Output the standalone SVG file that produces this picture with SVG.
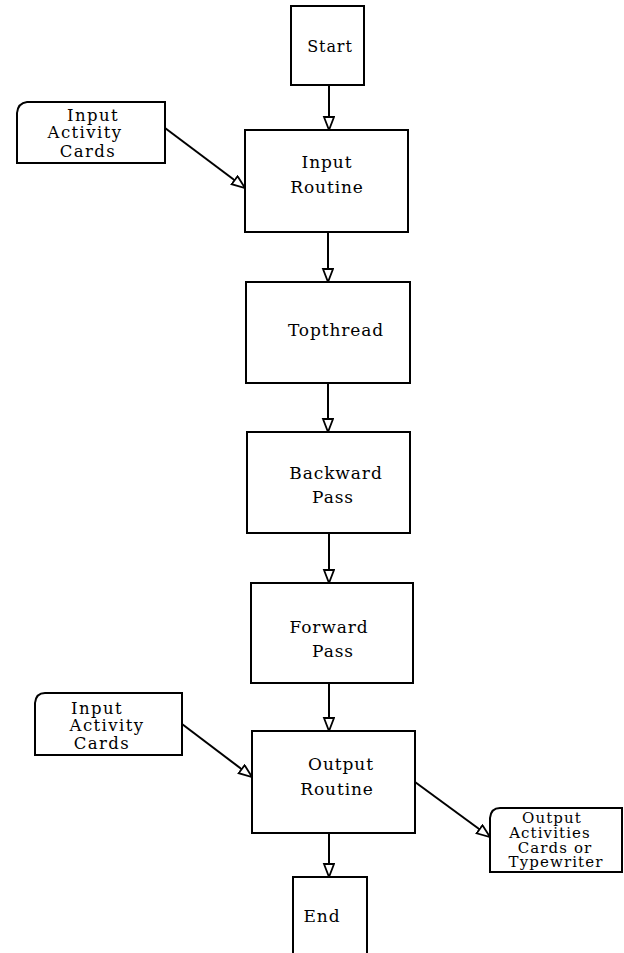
<svg xmlns="http://www.w3.org/2000/svg" width="624" height="953" viewBox="0 0 624 953">
  <style>
    .box { fill: #fff; stroke: #000; stroke-width: 2; }
    .card { fill: #fff; stroke: #000; stroke-width: 2; }
    .lbl { font-family: "DejaVu Serif", "Liberation Serif", serif; font-size: 17px; letter-spacing: 0.9px; fill: #000; text-anchor: middle; }
    .clbl { font-family: "DejaVu Serif", "Liberation Serif", serif; font-size: 16.5px; letter-spacing: 1.4px; fill: #000; text-anchor: middle; }
    .olbl { font-family: "DejaVu Serif", "Liberation Serif", serif; font-size: 15px; letter-spacing: 1.1px; fill: #000; text-anchor: middle; }
    .edge { fill: none; stroke: #000; stroke-width: 2; marker-end: url(#arrow); }
  </style>
  <defs>
    <marker id="arrow" markerUnits="userSpaceOnUse" markerWidth="18" markerHeight="14" refX="14" refY="6" orient="auto">
      <path d="M1,1 L14,6 L1,11 Z" fill="#fff" stroke="#000" stroke-width="1.8"/>
    </marker>
  </defs>
  <rect width="624" height="953" fill="#fff"/>

  <g id="connectors">
    <line class="edge" x1="329" y1="85" x2="329" y2="130"/>
    <line class="edge" x1="328" y1="232" x2="328" y2="282"/>
    <line class="edge" x1="328" y1="383" x2="328" y2="432"/>
    <line class="edge" x1="329" y1="533" x2="329" y2="583"/>
    <line class="edge" x1="329" y1="683" x2="329" y2="731"/>
    <line class="edge" x1="329" y1="833" x2="329" y2="877"/>
    <line class="edge" x1="165" y1="128" x2="245" y2="188"/>
    <line class="edge" x1="182" y1="724" x2="252" y2="777"/>
    <line class="edge" x1="415" y1="782" x2="490" y2="837"/>
  </g>

  <g id="start">
    <rect class="box" x="291" y="6" width="73" height="79"/>
    <text class="lbl" x="330" y="52" style="font-size:16px">Start</text>
  </g>

  <g id="input-routine">
    <rect class="box" x="245" y="130" width="163" height="102"/>
    <text class="lbl" x="327" y="168">Input</text>
    <text class="lbl" x="327" y="193">Routine</text>
  </g>

  <g id="topthread">
    <rect class="box" x="246" y="282" width="164" height="101"/>
    <text class="lbl" x="336" y="336">Topthread</text>
  </g>

  <g id="backward-pass">
    <rect class="box" x="247" y="432" width="163" height="101"/>
    <text class="lbl" x="336" y="479">Backward</text>
    <text class="lbl" x="333" y="503">Pass</text>
  </g>

  <g id="forward-pass">
    <rect class="box" x="251" y="583" width="162" height="100"/>
    <text class="lbl" x="329" y="633">Forward</text>
    <text class="lbl" x="333" y="657">Pass</text>
  </g>

  <g id="output-routine">
    <rect class="box" x="252" y="731" width="163" height="102"/>
    <text class="lbl" x="341" y="770">Output</text>
    <text class="lbl" x="337" y="795">Routine</text>
  </g>

  <g id="end">
    <path class="box" d="M293,953 L293,877 L367,877 L367,953"/>
    <text class="lbl" x="322" y="922">End</text>
  </g>

  <g id="input-cards-top">
    <path class="card" d="M17,113 Q18,103 27,102 L165,102 L165,163 L17,163 Z"/>
    <text class="clbl" x="93" y="121">Input</text>
    <text class="clbl" x="85" y="138">Activity</text>
    <text class="clbl" x="88" y="157">Cards</text>
  </g>

  <g id="input-cards-bottom">
    <path class="card" d="M35,703 Q36,693 45,693 L182,693 L182,755 L35,755 Z"/>
    <text class="clbl" x="97" y="714">Input</text>
    <text class="clbl" x="107" y="731">Activity</text>
    <text class="clbl" x="102" y="749">Cards</text>
  </g>

  <g id="output-cards">
    <path class="card" d="M490,818 Q491,808 500,808 L622,808 L622,872 L490,872 Z"/>
    <text class="olbl" x="552" y="823">Output</text>
    <text class="olbl" x="550" y="838">Activities</text>
    <text class="olbl" x="555" y="853">Cards or</text>
    <text class="olbl" x="556" y="867">Typewriter</text>
  </g>
</svg>
